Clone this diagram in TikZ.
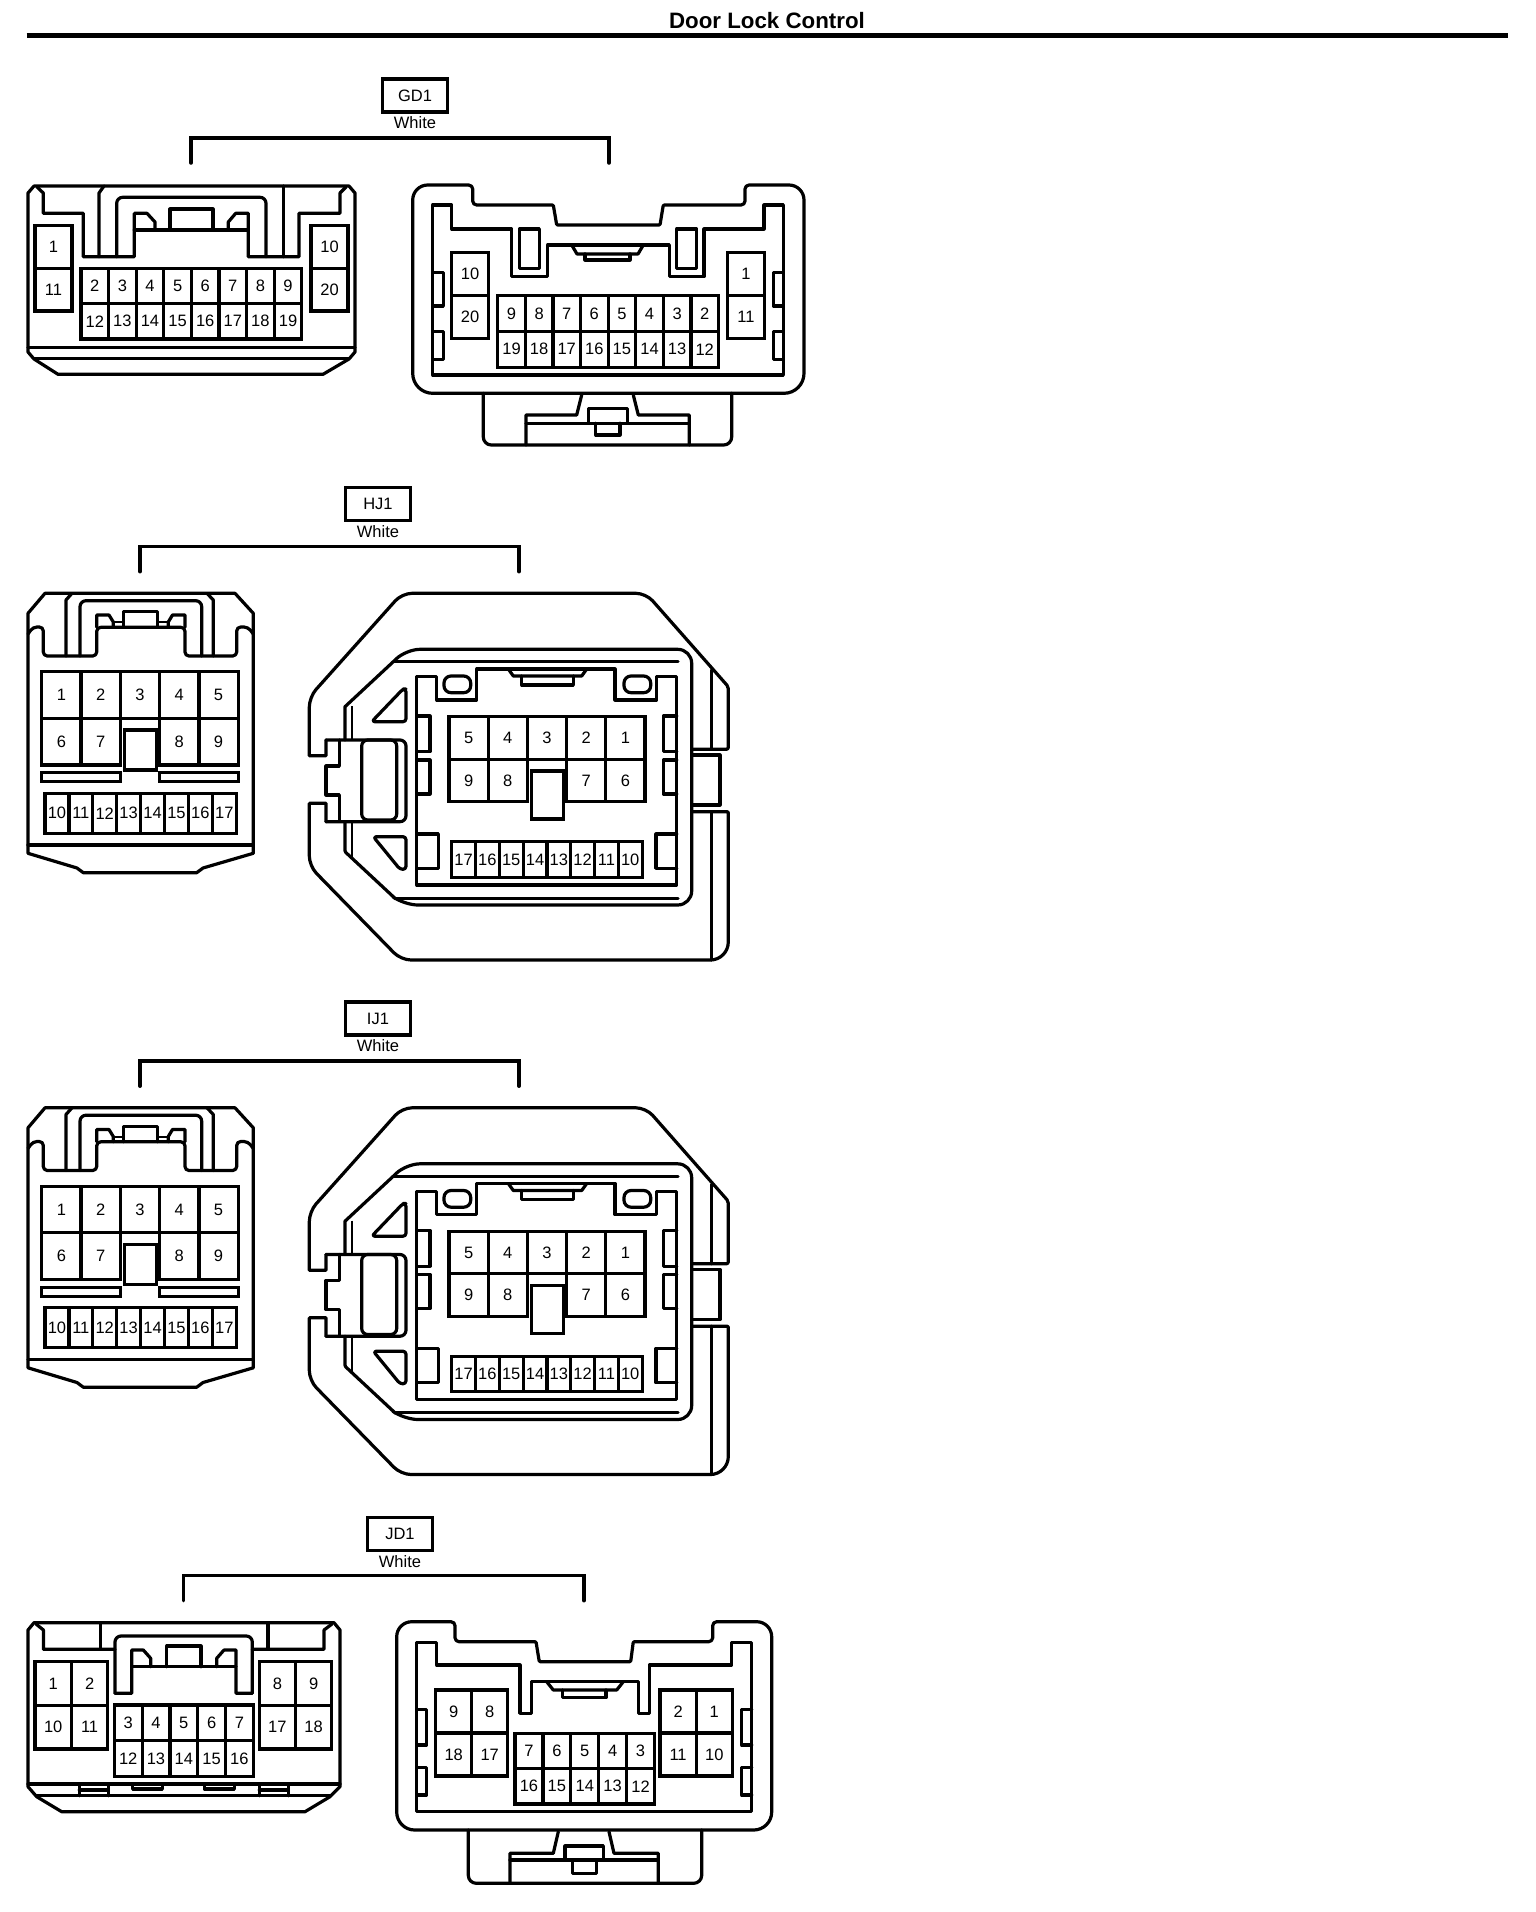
\documentclass[tikz,border=0pt]{standalone}
\usepackage{fontspec}
\setmainfont{Liberation Sans}
\usetikzlibrary{positioning}

\tikzset{
wire/.style={line width=3.2pt, line cap=round, line join=round},
thinwire/.style={line width=2pt},
bracket/.style={line width=3.5pt, line cap=round},
pin/.style={rectangle, draw, line width=3.2pt, inner sep=0pt, fill=white, font=\fontsize{16.5}{16.5}\selectfont},
tagbox/.style={rectangle, draw, line width=3.2pt, minimum width=65pt, minimum height=33pt, inner sep=0pt, font=\fontsize{16.5}{16.5}\selectfont},
tagtext/.style={inner sep=0pt, font=\fontsize{16.5}{16.5}\selectfont},
}

% one row of pin cells: prefix, left, top, width, height, labels
\newcommand{\pinrow}[6]{
\foreach \n [count=\i from 0] in {#6} {
  \node (#1\n) [pin, minimum width=#4pt, minimum height=#5pt] at ({#2+(\i+0.5)*#4},{#3+#5/2}) {\n};
}
}

% tag, colour and bracket above a pair: prefix, text, centre x, centre y, left, right, foot y
\newcommand{\conntag}[7]{
\node (#1tag) [tagbox] at (#3,#4) {#2};
\node (#1color) [tagtext, below=3pt of #1tag] {White};
\coordinate (#1left) at (#5,#7);
\coordinate (#1right) at (#6,#7);
\draw [bracket] (#1left)--++(0,-25)-|(#1right);
}

% the pair drawn twice, HJ1 and IJ1
\newcommand{\widepair}[1]{
%left housing
\draw [wire] (45,593.3)--(235,593.3)--(253.3,613.3)--(253.3,853.3)--(203,868)--(196.7,872.7)--(83.3,872.7)--(77,868)--(28,853.3)--(28,613.3)--cycle;
\draw [wire] (28,845)--(253.3,845);
\draw [wire, rounded corners=4pt] (28,634)--(33,627)--(43.3,627)--(43.3,656)--(96.7,656)--(96.7,627.3)--(185,627.3)--(185,656)--(236.7,656)--(236.7,627)--(248,627)--(253.3,634);
\draw [wire] (66,656)--(66,600)--(72,593.3);
\draw [wire] (213.3,656)--(213.3,600)--(207,593.3);
\draw [wire, rounded corners=6pt] (80,656)--(80,600.7)--(201.7,600.7)--(201.7,656);
\draw [wire] (96.7,627.3)--(96.7,615)--(109,615)--(113.3,622)--(113.3,627.3);
\draw [wire] (185,627.3)--(185,615)--(172.5,615)--(168.3,622)--(168.3,627.3);
\draw [wire] (123.3,627.3)--(123.3,611.7)--(157.3,611.7)--(157.3,627.3);
\draw [thinwire] (113.3,622)--(123.3,622);
\draw [thinwire] (157.3,622)--(168.3,622);
\pinrow{#1a}{41.7}{671.7}{39.3}{46.6}{1,2,3,4,5}
\pinrow{#1a}{41.7}{718.3}{39.3}{46.7}{6,7}
\pinrow{#1a}{159.6}{718.3}{39.3}{46.7}{8,9}
\node (#1akey) [pin, minimum width=32pt, minimum height=40pt] at (140.3,750) {};
\node (#1aslotl) [pin, minimum width=79pt, minimum height=9pt] at (81.2,777.2) {};
\node (#1aslotr) [pin, minimum width=79pt, minimum height=9pt] at (199.3,777.2) {};
\pinrow{#1a}{45}{793.3}{23.9}{40}{10,11,12,13,14,15,16,17}
%right housing
\draw [wire] (326,740)--(326,755.7)--(309.3,755.7)[rounded corners=10pt]--(309.3,697)--(402,593.3)--(646,593.3)[rounded corners=2pt]--(728.3,686.7)--(728.3,749.3)--(691.7,749.3);
\draw [wire] (326,821.7)--(326,803.3)--(309.3,803.3)[rounded corners=10pt]--(309.3,866)--(401,960)[rounded corners=18pt]--(728.3,960)[rounded corners=1pt]--(728.3,811.7)--(691.7,811.7);
\draw [wire] (711.7,670)--(711.7,749.3);
\draw [wire] (711.7,811.7)--(711.7,960);
\draw [wire] (691.7,755)--(720,755)--(720,805)--(691.7,805);
\draw [wire] (345,740)--(345,706.7)--(393.3,661.7)[rounded corners=14pt]--(406,649.3)--(691.7,649.3)--(691.7,905)--(404,905)[rounded corners=1pt]--(395,898.3)--(345,851.7)--(345,821.7);
\draw [wire] (393.3,661.7)--(678,661.7);
\draw [wire] (395,898.3)--(678,898.3);
\draw [thinwire] (351.7,706)--(351.7,740);
\draw [thinwire] (351.7,821.7)--(351.7,858);
\draw [wire, rounded corners=6pt] (326,740)--(406,740)--(406,821.7)--(326,821.7);
\draw [wire] (339.3,740)--(339.3,766)--(326,766)--(326,795)--(339.3,795)--(339.3,820);
\draw [wire, rounded corners=6pt] (361.7,740) rectangle (396.7,820);
\draw [wire] (416.7,676.7)--(436.7,676.7)--(436.7,700)--(476.7,700)--(476.7,669)--(615,669)--(615,700)--(656.7,700)--(656.7,676.7)--(676.7,676.7)--(676.7,885)--(416.7,885)--cycle;
\draw [wire, rounded corners=7pt] (444,676) rectangle (470.7,692.7);
\draw [wire, rounded corners=7pt] (624,676) rectangle (650.7,692.7);
\draw [wire] (508.3,669)--(513.3,676)--(581.7,676)--(586.7,669);
\draw [wire] (521.7,676)--(521.7,685)--(573.3,685)--(573.3,676);
\draw [wire, rounded corners=3pt] (371.7,721.7)--(403,689)--(406,689)--(406,721.7)--cycle;
\draw [wire, rounded corners=3pt] (373.3,836.7)--(406,836.7)--(406,869.3)--(400,869.3)--cycle;
\draw [wire] (416.7,716)--(430,716)--(430,751.7)--(416.7,751.7);
\draw [wire] (416.7,760)--(430,760)--(430,794)--(416.7,794);
\draw [wire] (676.7,716)--(663.3,716)--(663.3,751.7)--(676.7,751.7);
\draw [wire] (676.7,760)--(663.3,760)--(663.3,794)--(676.7,794);
\draw [wire] (416.7,834)--(438.3,834)--(438.3,868.3)--(416.7,868.3);
\draw [wire] (676.7,834)--(656,834)--(656,868.3)--(676.7,868.3);
\pinrow{#1b}{449}{716.7}{39.2}{42.5}{5,4,3,2,1}
\pinrow{#1b}{449}{759.2}{39.2}{42.5}{9,8}
\pinrow{#1b}{566.6}{759.2}{39.2}{42.5}{7,6}
\node (#1bkey) [pin, minimum width=32pt, minimum height=48pt] at (547.2,795) {};
\pinrow{#1b}{451.7}{841.7}{23.8}{35.6}{17,16,15,14,13,12,11,10}
}

\begin{document}
\begin{tikzpicture}[x=1pt, y=-1pt]
\useasboundingbox (0,0) rectangle (1536,1912);

\node (title) [font=\bfseries\fontsize{22.3}{22.3}\selectfont, inner sep=0pt] at (767,21) {Door Lock Control};
\coordinate (ruleleft) at (26.5,35.5);
\coordinate (ruleright) at (1508,35.5);
\draw [line width=5pt] (ruleleft)--(ruleright);

%first pair
\conntag{gd}{GD1}{415}{95.5}{191}{609}{163}
\draw [wire] (34,186)--(349,186)--(355,193)--(355,352)--(349,359)--(323,374.3)--(58,374.3)--(34,359)--(28,352)--(28,193)--cycle;
\draw [wire] (28,347.3)--(355,347.3);
\draw [wire] (34,358.3)--(349,358.3);
\draw [wire] (37,187)--(43.3,193)--(43.3,213.3)--(83.3,213.3)--(83.3,256.7)--(134.3,256.7)--(134.3,213.3)--(147,213.3)--(155,222)--(155,230);
\draw [wire] (134.3,230)--(248.3,230);
\draw [wire] (228.3,230)--(228.3,222)--(235.7,213.3)--(248.3,213.3)--(248.3,256.7)--(299,256.7)--(299,213.3)--(340,213.3)--(340,193)--(346,187);
\draw [wire] (99,256.7)--(99,193)--(104,186);
\draw [wire] (283.3,256.7)--(283.3,186);
\draw [wire, rounded corners=6pt] (116.7,256.7)--(116.7,197.3)--(266,197.3)--(266,256.7);
\draw [wire] (170,230)--(170,209)--(213,209)--(213,230);
\pinrow{gda}{35}{225.7}{37}{42.7}{1}
\pinrow{gda}{35}{268.3}{37}{42.7}{11}
\pinrow{gda}{311}{225.7}{37}{42.7}{10}
\pinrow{gda}{311}{268.3}{37}{42.7}{20}
\pinrow{gda}{81}{268.3}{27.6}{35.3}{2,3,4,5,6,7,8,9}
\pinrow{gda}{81}{303.6}{27.6}{35.3}{12,13,14,15,16,17,18,19}

\draw [wire, rounded corners=15pt] (412.7,300)--(412.7,185)[rounded corners=4pt]--(472.7,185)--(472.7,205)[rounded corners=1pt]--(553.3,205)--(556.7,225)--(660,225)--(663.3,205)[rounded corners=4pt]--(745,205)--(745,185)[rounded corners=15pt]--(804,185)[rounded corners=20pt]--(804,393.3)--(412.7,393.3)--cycle;
\draw [wire] (432.7,205)--(451.7,205)--(451.7,229)--(511.7,229)--(511.7,276.7)--(547.7,276.7)--(547.7,245)--(669.3,245)--(669.3,276.7)--(704,276.7)--(704,229)--(764,229)--(764,205)--(783.3,205)--(783.3,375)--(432.7,375)--cycle;
\draw [wire] (519.3,229) rectangle (539.3,268.3);
\draw [wire] (676.7,229) rectangle (696.7,268.3);
\draw [wire] (571.7,245)--(577,254)--(638,254)--(643.3,245);
\draw [wire] (585,254)--(585,260)--(630,260)--(630,254);
\draw [wire] (432.7,272.3)--(443.3,272.3)--(443.3,306)--(432.7,306);
\draw [wire] (432.7,331.7)--(443.3,331.7)--(443.3,359.3)--(432.7,359.3);
\draw [wire] (783.3,272.3)--(773.3,272.3)--(773.3,306)--(783.3,306);
\draw [wire] (783.3,331.7)--(773.3,331.7)--(773.3,359.3)--(783.3,359.3);
\pinrow{gdb}{451.7}{252.7}{36.7}{43}{10}
\pinrow{gdb}{451.7}{295.7}{36.7}{43}{20}
\pinrow{gdb}{727.7}{252.7}{36.7}{43}{1}
\pinrow{gdb}{727.7}{295.7}{36.7}{43}{11}
\pinrow{gdb}{497.7}{295.7}{27.6}{35.7}{9,8,7,6,5,4,3,2}
\pinrow{gdb}{497.7}{331.4}{27.6}{35.7}{19,18,17,16,15,14,13,12}
\draw [wire, rounded corners=8pt] (483.3,393.3)--(483.3,445)--(731.7,445)--(731.7,393.3);
\draw [wire] (526,445)--(526,415)--(576.7,415)--(581.7,395);
\draw [wire] (633.3,395)--(638.3,415)--(689.3,415)--(689.3,445);
\draw [wire] (526,423.3)--(689.3,423.3);
\draw [wire] (588.3,423.3)--(588.3,408.3)--(627.7,408.3)--(627.7,423.3);
\draw [wire] (595.7,423.3)--(595.7,435)--(620,435)--(620,423.3);

%second pair
\conntag{hj}{HJ1}{378}{504}{140}{519}{571.7}
\widepair{hj}

%third pair
\conntag{ij}{IJ1}{378}{1018.5}{140}{519}{1086.2}
\begin{scope}[shift={(0,514.5)}]
\widepair{ij}
\end{scope}

%fourth pair
\conntag{jd}{JD1}{400}{1534}{183.7}{584}{1600.7}
\draw [wire] (34,1622.7)--(334,1622.7)--(340,1630)--(340,1786.7)--(330,1796.7)--(305,1811.7)--(61.7,1811.7)--(36.7,1796.7)--(28,1786.7)--(28,1630)--cycle;
\draw [wire] (28,1784)--(340,1784);
\draw [wire] (36.7,1795.7)--(330,1795.7);
\draw [wire] (36,1624)--(43.4,1630)--(43.4,1649.3)--(115,1649.3);
\draw [wire] (332,1624)--(324,1630)--(324,1649.3)--(252.3,1649.3);
\draw [wire] (100.5,1649.3)--(100.5,1622.7);
\draw [wire] (267.9,1649.3)--(267.9,1622.7);
\draw [wire, rounded corners=6pt] (115,1693.3)--(115,1636)--(252.3,1636)--(252.3,1693.3);
\draw [wire] (115,1693.3)--(131.7,1693.3)--(131.7,1650)--(143.3,1650)--(150.7,1658.3)--(150.7,1666.7);
\draw [wire] (131.7,1666.7)--(236,1666.7);
\draw [wire] (216.7,1666.7)--(216.7,1658.3)--(224,1650)--(236,1650)--(236,1693.3)--(252.3,1693.3);
\draw [wire] (166.7,1666.7)--(166.7,1646)--(201,1646)--(201,1666.7);
\draw [wire] (79.3,1784)--(79.3,1795.7);
\draw [wire] (108.3,1784)--(108.3,1795.7);
\draw [wire] (79.3,1790)--(108.3,1790);
\draw [wire] (259.3,1784)--(259.3,1795.7);
\draw [wire] (288.3,1784)--(288.3,1795.7);
\draw [wire] (259.3,1790)--(288.3,1790);
\draw [wire] (132.7,1784)--(132.7,1789)--(162.3,1789)--(162.3,1784);
\draw [wire] (204.3,1784)--(204.3,1789)--(234.3,1789)--(234.3,1784);
\pinrow{jda}{35}{1661.7}{36.4}{43.6}{1,2}
\pinrow{jda}{35}{1705.3}{36.4}{43.6}{10,11}
\pinrow{jda}{259.3}{1661.7}{36.2}{43.6}{8,9}
\pinrow{jda}{259.3}{1705.3}{36.2}{43.6}{17,18}
\pinrow{jda}{114.3}{1705}{27.8}{35.8}{3,4,5,6,7}
\pinrow{jda}{114.3}{1740.8}{27.8}{35.8}{12,13,14,15,16}

\draw [wire, rounded corners=15pt] (396.7,1700)--(396.7,1621.7)[rounded corners=4pt]--(455,1621.7)--(455,1641.7)[rounded corners=1pt]--(536,1641.7)--(539.3,1661.7)--(630.7,1661.7)--(633.3,1641.7)[rounded corners=4pt]--(712.7,1641.7)--(712.7,1621.7)[rounded corners=15pt]--(771.7,1621.7)[rounded corners=18pt]--(771.7,1830)--(396.7,1830)--cycle;
\draw [wire] (416.7,1642.7)--(436.7,1642.7)--(436.7,1665)--(520,1665)--(520,1713.3)--(531.7,1713.3)--(531.7,1681.7)--(638.3,1681.7)--(638.3,1713.3)--(649.3,1713.3)--(649.3,1665)--(731.7,1665)--(731.7,1642.7)--(751.7,1642.7)--(751.7,1811.7)--(416.7,1811.7)--cycle;
\draw [wire] (546.7,1681.7)--(553.3,1690)--(616.7,1690)--(623.3,1681.7);
\draw [wire] (562.3,1690)--(562.3,1697.7)--(606,1697.7)--(606,1690);
\draw [wire] (416.7,1709.3)--(426.7,1709.3)--(426.7,1745)--(416.7,1745);
\draw [wire] (416.7,1767.7)--(426.7,1767.7)--(426.7,1795)--(416.7,1795);
\draw [wire] (751.7,1709.3)--(741.7,1709.3)--(741.7,1745)--(751.7,1745);
\draw [wire] (751.7,1767.7)--(741.7,1767.7)--(741.7,1795)--(751.7,1795);
\pinrow{jdb}{435.7}{1690}{36}{43}{9,8}
\pinrow{jdb}{435.7}{1733}{36}{43}{18,17}
\pinrow{jdb}{660}{1690}{36.2}{43}{2,1}
\pinrow{jdb}{660}{1733}{36.2}{43}{11,10}
\pinrow{jdb}{515}{1733.3}{27.9}{35.3}{7,6,5,4,3}
\pinrow{jdb}{515}{1768.6}{27.9}{35.3}{16,15,14,13,12}
\draw [wire, rounded corners=8pt] (468.3,1830)--(468.3,1883.3)--(701.7,1883.3)--(701.7,1830);
\draw [wire] (510,1883.3)--(510,1853.3)--(553.3,1853.3)--(558.3,1831.7);
\draw [wire] (609,1831.7)--(614,1853.3)--(658.3,1853.3)--(658.3,1883.3);
\draw [wire] (510,1860)--(658.3,1860);
\draw [wire] (565,1860)--(565,1846)--(603.3,1846)--(603.3,1860);
\draw [wire] (572.3,1860)--(572.3,1873.3)--(596.7,1873.3)--(596.7,1860);
\end{tikzpicture}
\end{document}
